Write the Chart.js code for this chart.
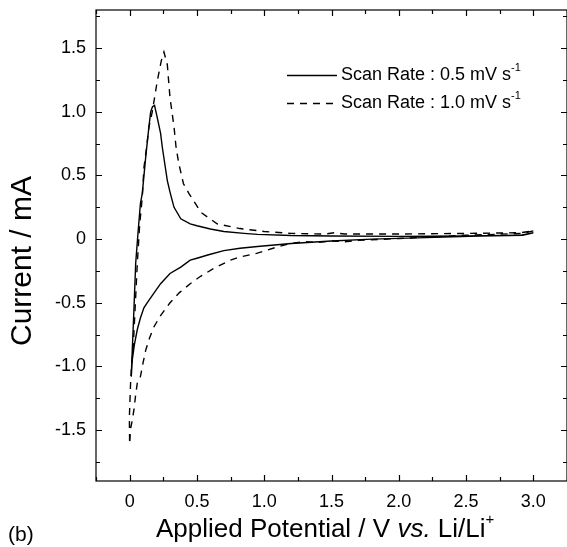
<!DOCTYPE html>
<html>
<head>
<meta charset="utf-8">
<script src="https://cdn.jsdelivr.net/npm/chart.js@4.4.1/dist/chart.umd.min.js"></script>
<style>
  html, body { margin: 0; padding: 0; background: #fff; }
  #wrap { width: 567px; height: 547px; }
</style>
</head>
<body>
<div id="wrap"><canvas id="cv" width="567" height="547"></canvas></div>
<script>
// scan rate 0.5 mV/s : cathodic sweep from 3.0 V, then anodic sweep back
const potential05 = [3.0, 2.92, 2.6, 2.2, 1.8, 1.5, 1.2, 0.95, 0.82, 0.70, 0.58, 0.50, 0.45, 0.38, 0.30, 0.23, 0.17, 0.13, 0.106, 0.08, 0.057, 0.035, 0.02, 0.012,
  0.02, 0.03, 0.045, 0.06, 0.08, 0.094, 0.119, 0.14, 0.156, 0.17, 0.185, 0.20, 0.23, 0.243, 0.26, 0.28, 0.30, 0.317, 0.33, 0.38, 0.45, 0.50, 0.60, 0.70, 0.85, 0.95, 1.2, 1.5, 2.0, 2.5, 2.9, 3.0];
const current05 = [0.05, 0.03, 0.025, 0.012, 0.0, -0.015, -0.034, -0.058, -0.072, -0.09, -0.125, -0.15, -0.165, -0.22, -0.27, -0.35, -0.44, -0.50, -0.54, -0.62, -0.71, -0.83, -0.945, -1.08,
  -0.86, -0.60, -0.19, 0.02, 0.28, 0.36, 0.64, 0.85, 1.0, 1.04, 1.05, 0.98, 0.83, 0.72, 0.60, 0.46, 0.37, 0.30, 0.25, 0.16, 0.12, 0.105, 0.08, 0.06, 0.045, 0.037, 0.028, 0.025, 0.022, 0.025, 0.03, 0.05];

// scan rate 1.0 mV/s
const potential10 = [3.0, 2.92, 2.5, 2.0, 1.7, 1.6, 1.5, 1.4, 1.3, 1.2, 1.1, 0.95, 0.82, 0.75, 0.625, 0.53, 0.45, 0.37, 0.30, 0.23, 0.18, 0.15, 0.12, 0.10, 0.08, 0.057, 0.045, 0.032, 0.02, 0.007, 0.0,
  -0.002, 0.007, 0.015, 0.027, 0.045, 0.057, 0.075, 0.094, 0.106, 0.126, 0.143, 0.168, 0.205, 0.235, 0.255, 0.28, 0.30, 0.33, 0.345, 0.366, 0.40, 0.44, 0.53, 0.65, 0.82, 1.0, 1.2, 1.45, 1.52, 1.6, 2.0, 2.5, 2.9, 3.0];
const current10 = [0.065, 0.045, 0.03, 0.005, -0.01, -0.02, -0.015, -0.025, -0.02, -0.034, -0.06, -0.11, -0.14, -0.165, -0.23, -0.29, -0.35, -0.42, -0.50, -0.60, -0.69, -0.77, -0.87, -0.97, -1.08, -1.13, -1.22, -1.34, -1.42, -1.49, -1.61,
  -1.40, -1.13, -0.98, -0.84, -0.45, -0.19, 0.12, 0.33, 0.56, 0.72, 0.88, 1.0, 1.24, 1.40, 1.47, 1.37, 1.11, 0.88, 0.72, 0.59, 0.435, 0.36, 0.21, 0.12, 0.083, 0.06, 0.045, 0.04, 0.05, 0.04, 0.04, 0.045, 0.05, 0.065];

const xTicks = [0, 0.5, 1.0, 1.5, 2.0, 2.5, 3.0];
const yTicks = [-1.5, -1.0, -0.5, 0, 0.5, 1.0, 1.5];
const seriesLabels = ['Scan Rate : 0.5 mV s', 'Scan Rate : 1.0 mV s'];

const FONT = '"Liberation Sans", Arial, Helvetica, sans-serif';
const DASH = [7, 6];

const toPoints = (xs, ys) => xs.map((v, i) => ({ x: v, y: ys[i] }));
const fmt = v => (v === 0 ? '0' : v.toFixed(1));

// draw a run of text pieces, some raised / italic
function drawRich(ctx, parts, x, y) {
  let cx = x;
  parts.forEach(p => {
    ctx.font = p.font;
    ctx.fillText(p.t, cx, y + (p.dy || 0));
    cx += ctx.measureText(p.t).width;
  });
  return cx;
}

const decor = {
  id: 'decor',
  afterDraw(chart) {
    const { ctx, chartArea: a, scales: { x, y } } = chart;
    ctx.save();
    ctx.strokeStyle = '#000';
    ctx.fillStyle = '#000';
    ctx.lineWidth = 1.2;
    ctx.strokeRect(a.left, a.top, a.right - a.left, a.bottom - a.top);

    // inward ticks on every side, major every 0.5, minor every 0.25
    ctx.beginPath();
    for (let v = -0.25; v <= 3.25 + 1e-9; v += 0.25) {
      const px = Math.round(x.getPixelForValue(v)) + 0.5;
      const len = Math.abs(v * 2 - Math.round(v * 2)) < 1e-6 ? 6 : 4;
      ctx.moveTo(px, a.bottom); ctx.lineTo(px, a.bottom - len);
      ctx.moveTo(px, a.top); ctx.lineTo(px, a.top + len);
    }
    for (let v = -1.75; v <= 1.8 + 1e-9; v += 0.25) {
      const py = Math.round(y.getPixelForValue(v)) + 0.5;
      const len = Math.abs(v * 2 - Math.round(v * 2)) < 1e-6 ? 6 : 4;
      ctx.moveTo(a.left, py); ctx.lineTo(a.left + len, py);
      ctx.moveTo(a.right, py); ctx.lineTo(a.right - len, py);
    }
    ctx.stroke();

    // legend
    ctx.lineWidth = 1.3;
    ctx.beginPath(); ctx.setLineDash([]);
    ctx.moveTo(287, 75.5); ctx.lineTo(337, 75.5); ctx.stroke();
    ctx.beginPath(); ctx.setLineDash(DASH);
    ctx.moveTo(287, 103.5); ctx.lineTo(337, 103.5); ctx.stroke();
    ctx.setLineDash([]);
    ctx.textBaseline = 'middle';
    ctx.textAlign = 'left';
    [75, 103].forEach((ly, i) => {
      drawRich(ctx, [
        { t: seriesLabels[i], font: `18px ${FONT}` },
        { t: '-1', font: `11px ${FONT}`, dy: -7 }
      ], 341, ly);
    });

    // x title
    const tf = `26px ${FONT}`;
    drawRich(ctx, [
      { t: 'Applied Potential / V ', font: tf },
      { t: 'vs.', font: `italic ${tf}` },
      { t: ' Li/Li', font: tf },
      { t: '+', font: `15px ${FONT}`, dy: -10 }
    ], 156, 530);

    // y title
    ctx.save();
    ctx.translate(23, 261);
    ctx.rotate(-Math.PI / 2);
    ctx.textAlign = 'center';
    ctx.font = `30px ${FONT}`;
    ctx.fillText('Current / mA', 0, 0);
    ctx.restore();

    ctx.font = `21px ${FONT}`;
    ctx.fillText('(b)', 8, 535);
    ctx.restore();
  }
};

new Chart(document.getElementById('cv'), {
  type: 'scatter',
  data: {
    datasets: [
      {
        label: seriesLabels[0],
        data: toPoints(potential05, current05),
        showLine: true, borderColor: '#000', borderWidth: 1.4,
        pointRadius: 0, tension: 0
      },
      {
        label: seriesLabels[1],
        data: toPoints(potential10, current10),
        showLine: true, borderColor: '#000', borderWidth: 1.4, borderDash: DASH,
        pointRadius: 0, tension: 0
      }
    ]
  },
  options: {
    responsive: false,
    devicePixelRatio: 1,
    animation: false,
    layout: { padding: { top: 10, right: 0, bottom: 0, left: 0 } },
    plugins: { legend: { display: false }, tooltip: { enabled: false } },
    scales: {
      x: {
        type: 'linear', min: -0.25, max: 3.25,
        grid: { display: false, drawTicks: false },
        border: { display: false },
        afterBuildTicks: s => { s.ticks = xTicks.map(v => ({ value: v })); },
        afterFit: s => { s.height = 66; s.paddingLeft = 0; s.paddingRight = 0; },
        ticks: { color: '#000', padding: 10, font: { family: FONT, size: 18 }, callback: fmt, maxRotation: 0 }
      },
      y: {
        type: 'linear', min: -1.9, max: 1.8,
        grid: { display: false, drawTicks: false },
        border: { display: false },
        afterBuildTicks: s => { s.ticks = yTicks.map(v => ({ value: v })); },
        afterFit: s => { s.width = 96; s.paddingTop = 0; s.paddingBottom = 0; },
        ticks: { color: '#000', padding: 10, font: { family: FONT, size: 18 }, callback: fmt }
      }
    }
  },
  plugins: [decor]
});
</script>
</body>
</html>
